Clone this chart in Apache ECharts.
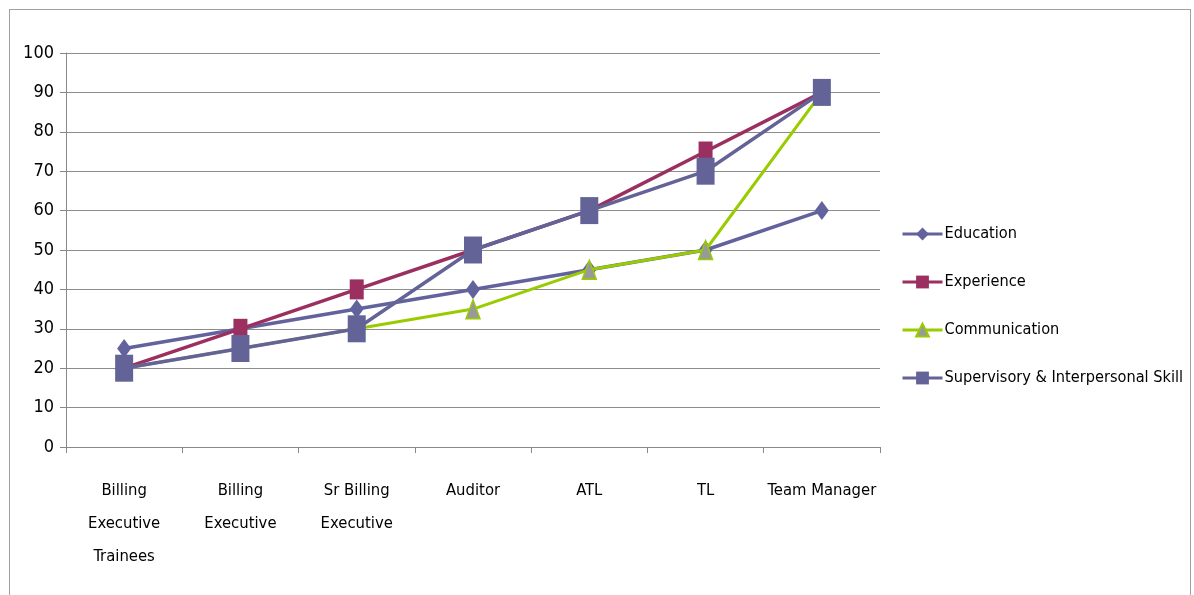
<!DOCTYPE html>
<html><head><meta charset="utf-8">
<script src="https://cdn.jsdelivr.net/npm/echarts@6/dist/echarts.min.js"></script>
<style>html,body{margin:0;padding:0;background:#fff}#c{width:1194px;height:595px}
#b{position:absolute;left:9px;top:9px;width:1182px;height:600px;border:1px solid #a0a0a0;box-sizing:border-box;pointer-events:none}</style>
</head><body><div id="c"></div><div id="b"></div>
<script>
const categories = ['Billing\nExecutive\nTrainees','Billing\nExecutive','Sr Billing\nExecutive','Auditor','ATL','TL','Team Manager'];
const education = [25,30,35,40,45,50,60];
const experience = [20,30,40,50,60,75,90];
const communication = [20,25,30,35,45,50,90];
const supervisory = [20,25,30,50,60,70,90];
const yTicks = [0,10,20,30,40,50,60,70,80,90,100];

const FONT = "'Liberation Sans Narrow','DejaVu Sans Condensed','Open Sans',sans-serif";
const chart = echarts.init(document.getElementById('c'));
chart.setOption({
  animation:false,
  textStyle:{fontFamily:FONT},
  grid:{left:66,right:314,top:53,bottom:148,containLabel:false},
  legend:{
    orient:'vertical', left:901, top:225, padding:0, itemGap:30, itemWidth:40, itemHeight:16,
    lineStyle:{width:3},
    textStyle:{fontFamily:FONT,fontSize:16.2,lineHeight:18,color:'#000',padding:[0,0,0,-3]},
    data:['Education','Experience','Communication','Supervisory & Interpersonal Skill']
  },
  xAxis:{type:'category',data:categories,boundaryGap:true,
    axisLine:{lineStyle:{color:'#888',width:1}},
    axisTick:{show:true,length:6,lineStyle:{color:'#888'}},
    axisLabel:{color:'#000',fontSize:16.5,lineHeight:33,margin:27,interval:0,fontFamily:FONT},
    splitLine:{show:false}},
  yAxis:{type:'value',min:0,max:100,interval:10,
    axisLine:{show:true,lineStyle:{color:'#888',width:1}},
    axisTick:{show:true,length:6,inside:false,lineStyle:{color:'#888'}},
    axisLabel:{color:'#000',fontSize:18,margin:12,fontFamily:FONT,formatter:v=>yTicks.includes(v)?String(v):''},
    splitLine:{lineStyle:{color:'#8c8c8c',width:1}}},
  series:[
    {name:'Education',type:'line',data:education,symbol:'diamond',symbolSize:[14,19],
      lineStyle:{color:'#62629c',width:3.5},itemStyle:{color:'#62629c'},z:2},
    {name:'Experience',type:'line',data:experience,symbol:'rect',symbolSize:[14,20],
      lineStyle:{color:'#9b2f60',width:3.5},itemStyle:{color:'#9b2f60'},z:3},
    {name:'Communication',type:'line',data:communication,symbol:'triangle',symbolSize:[14,19],
      lineStyle:{color:'#99cc00',width:3},itemStyle:{color:'#999999',borderColor:'#99cc00',borderWidth:1.5},z:4},
    {name:'Supervisory & Interpersonal Skill',type:'line',data:supervisory,symbol:'rect',symbolSize:[18,27],
      lineStyle:{color:'#636397',width:3.5},itemStyle:{color:'#636397'},z:5}
  ]
});
</script></body></html>
